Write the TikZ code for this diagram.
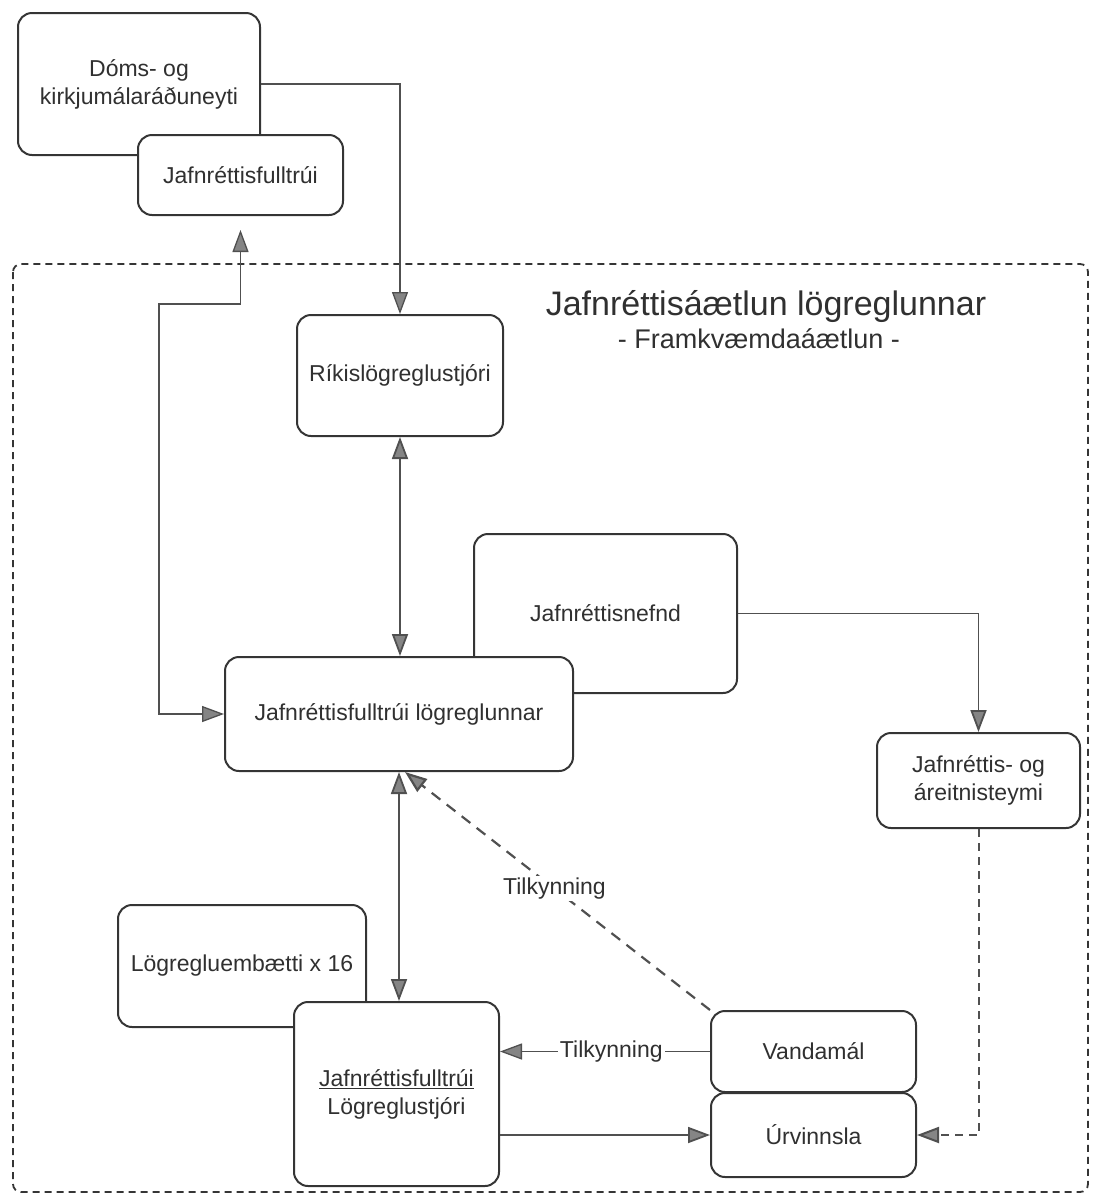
\documentclass[tikz,border=0pt]{standalone}
\usepackage{fontspec}
\setmainfont{Liberation Sans}
\usetikzlibrary{arrows.meta}
\definecolor{boxc}{HTML}{353535}
\definecolor{linec}{HTML}{505050}
\definecolor{tipc}{HTML}{858585}
\definecolor{txtc}{HTML}{303030}
\tikzset{
  box/.style={draw=boxc, line width=2pt, rounded corners=14pt, fill=white,
    inner sep=0pt, align=center, text=txtc, font=\fontsize{23}{28}\selectfont},
  tip/.tip={Triangle[length=22pt,width=16pt,fill=tipc]},
  conn/.style={draw=linec, line width=1.8pt},
  thinconn/.style={draw=linec, line width=1.3pt},
  lbl/.style={fill=white, inner sep=2pt, text=txtc, font=\fontsize{23}{28}\selectfont},
}
\begin{document}
\begin{tikzpicture}[x=1pt,y=-1pt]
\useasboundingbox (0,0) rectangle (1093,1203);
% frame
\draw[draw=boxc, line width=1.8pt, dash pattern=on 7pt off 5pt, rounded corners=8pt] (13,264) rectangle (1088,1192);
\node[text=txtc, font=\fontsize{34}{40}\selectfont] (title) at (766,307) {Jafnréttisáætlun lögreglunnar};
\node[text=txtc, font=\fontsize{27}{32}\selectfont] (subtitle) at (759,339) {- Framkvæmdaáætlun -};
% boxes
\node[box, minimum width=242pt, minimum height=142pt] (doms) at (139,84) {Dóms- og\\kirkjumálaráðuneyti};
\node[box, minimum width=205pt, minimum height=80pt] (jaftop) at (240.5,175) {Jafnréttisfulltrúi};
\node[box, minimum width=206pt, minimum height=121pt] (riki) at (400,375.5) {Ríkislögreglustjóri};
\node[box, minimum width=263pt, minimum height=159pt] (nefnd) at (605.5,613.5) {Jafnréttisnefnd};
\node[box, minimum width=348pt, minimum height=114pt] (jl) at (399,714) {Jafnréttisfulltrúi lögreglunnar};
\node[box, minimum width=203pt, minimum height=95pt] (teymi) at (978.5,780.5) {Jafnréttis- og\\áreitnisteymi};
\node[box, minimum width=248pt, minimum height=122pt] (embaetti) at (242,966) {Lögregluembætti x 16};
\node[box, minimum width=205pt, minimum height=184pt] (logstj) at (396.5,1094) {\underline{Jafnréttisfulltrúi}\\Lögreglustjóri};
\node[box, minimum width=205pt, minimum height=81pt] (vanda) at (813.5,1051.5) {Vandamál};
\node[box, minimum width=205pt, minimum height=84pt] (urv) at (813.5,1135) {Úrvinnsla};
% connectors
\coordinate (c1) at (159,304);
\draw[thinconn, -tip] (doms.east) -| (riki.north);
\draw[thinconn, tip-tip, shorten <=14pt] (jaftop.south) |- (c1) |- (jl.west);
\draw[conn, tip-tip] (riki.south) -- (riki.south |- jl.north);
\draw[conn, -tip] (nefnd.east) -| (teymi.north);
\draw[conn, tip-tip] (jl.south) -- (jl.south |- logstj.north);
\draw[conn, line width=2.2pt, dash pattern=on 11pt off 8pt, -tip] (vanda.north west) -- ([xshift=6pt]jl.south)
  node[lbl, pos=0.51] (t1) {Tilkynning};
\draw[thinconn, -tip] (vanda.west) -- (vanda.west -| logstj.east)
  node[lbl, pos=0.47] (t2) {Tilkynning};
\draw[conn, -tip] (logstj.east |- urv.west) -- (urv.west);
\draw[conn, line width=2pt, dash pattern=on 8pt off 6pt, -tip] (teymi.south) |- (urv.east);
\end{tikzpicture}
\end{document}
